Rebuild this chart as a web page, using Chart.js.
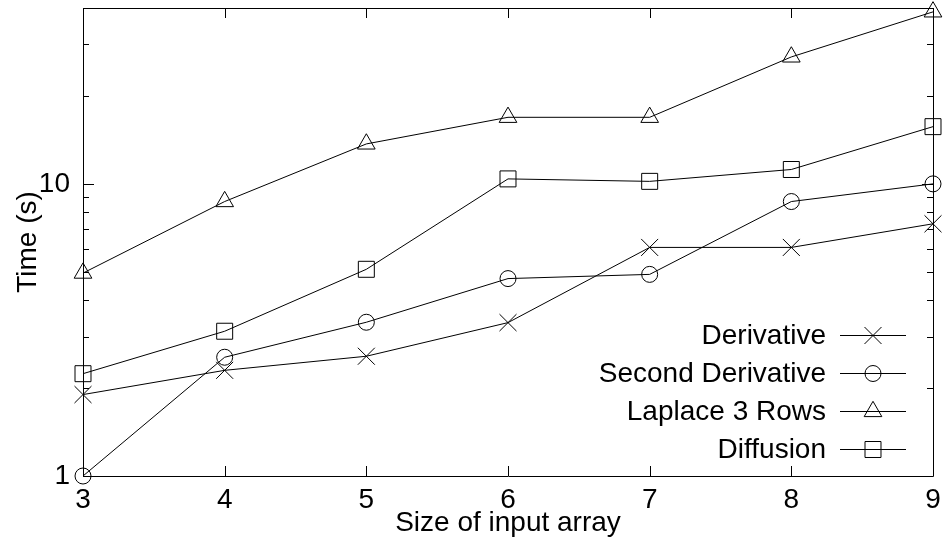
<!DOCTYPE html>
<html><head><meta charset="utf-8">
<script src="https://cdn.jsdelivr.net/npm/chart.js@4/dist/chart.umd.min.js"></script>
<style>html,body{margin:0;padding:0;background:#fff}</style>
</head><body>
<canvas id="c" width="945" height="546"></canvas>
<script>
const sizes = [3, 4, 5, 6, 7, 8, 9];
const derivative = [1.9, 2.3, 2.57, 3.35, 6.06, 6.06, 7.3];
const secondDerivative = [1.0, 2.55, 3.36, 4.74, 4.9, 8.7, 10.0];
const laplace3Rows = [4.95, 8.7, 13.7, 16.9, 16.9, 27.2, 38.8];
const diffusion = [2.24, 3.13, 5.1, 10.4, 10.2, 11.2, 15.7];
const seriesNames = ['Derivative', 'Second Derivative', 'Laplace 3 Rows', 'Diffusion'];
const xTicks = [3, 4, 5, 6, 7, 8, 9];
const yMajorTicks = [1, 10];
const yMinorTicks = [2, 3, 4, 5, 6, 7, 8, 9, 20, 30];
const yMin = 1, yMax = 40;

const FONT = '"Liberation Sans", Arial, Helvetica, sans-serif';
const FSIZE = 28;
const styles = [
  {pointStyle: 'crossRot', radius: 12},
  {pointStyle: 'circle', radius: 8},
  {pointStyle: 'triangle', radius: 10.2},
  {pointStyle: 'rect', radius: 11.3}
];
const seriesValues = [derivative, secondDerivative, laplace3Rows, diffusion];

const datasets = seriesValues.map((vals, i) => ({
  label: seriesNames[i],
  data: sizes.map((x, j) => ({x: x, y: vals[j]})),
  borderColor: '#000',
  borderWidth: 1,
  pointStyle: styles[i].pointStyle,
  pointRadius: styles[i].radius,
  pointHoverRadius: styles[i].radius,
  pointBorderColor: '#000',
  pointBackgroundColor: 'rgba(0,0,0,0)',
  pointBorderWidth: 1,
  tension: 0,
  fill: false,
  clip: false
}));

function crisp(v) { return Math.round(v) + 0.5; }

const framePlugin = {
  id: 'frame',
  beforeDatasetsDraw(chart) {
    const {ctx, chartArea: a, scales: {x, y}} = chart;
    ctx.save();
    ctx.strokeStyle = '#000';
    ctx.lineWidth = 1;
    ctx.beginPath();
    ctx.rect(crisp(a.left), crisp(a.top), Math.round(a.right) - Math.round(a.left), Math.round(a.bottom) - Math.round(a.top));
    ctx.stroke();
    ctx.beginPath();
    xTicks.forEach(v => {
      const px = crisp(x.getPixelForValue(v));
      ctx.moveTo(px, a.bottom); ctx.lineTo(px, a.bottom - 10);
      ctx.moveTo(px, a.top); ctx.lineTo(px, a.top + 10);
    });
    yMajorTicks.forEach(v => {
      const py = crisp(y.getPixelForValue(v));
      ctx.moveTo(a.left, py); ctx.lineTo(a.left + 11, py);
      ctx.moveTo(a.right, py); ctx.lineTo(a.right - 11, py);
    });
    yMinorTicks.forEach(v => {
      const py = crisp(y.getPixelForValue(v));
      ctx.moveTo(a.left, py); ctx.lineTo(a.left + 6, py);
      ctx.moveTo(a.right, py); ctx.lineTo(a.right - 6, py);
    });
    ctx.stroke();
    ctx.restore();
  },
  afterDraw(chart) {
    const {ctx} = chart;
    const rowY = [335, 373, 411, 449];
    const textRight = 826, lineL = 840, lineR = 906, markX = 873;
    ctx.save();
    ctx.font = FSIZE + 'px ' + FONT;
    ctx.textAlign = 'right';
    ctx.textBaseline = 'middle';
    seriesNames.forEach((name, i) => {
      const yy = rowY[i];
      ctx.fillStyle = '#000';
      ctx.fillText(name, textRight, yy + 1);
      ctx.strokeStyle = '#000';
      ctx.lineWidth = 1;
      ctx.beginPath();
      ctx.moveTo(lineL, yy + 0.5); ctx.lineTo(lineR, yy + 0.5);
      ctx.stroke();
      ctx.fillStyle = 'rgba(0,0,0,0)';
      Chart.helpers.drawPoint(ctx, {pointStyle: styles[i].pointStyle, radius: styles[i].radius, rotation: 0, borderWidth: 1}, markX, yy + 0.5);
    });
    ctx.restore();
  }
};

new Chart(document.getElementById('c'), {
  type: 'line',
  data: {datasets},
  plugins: [framePlugin],
  options: {
    responsive: false,
    animation: false,
    devicePixelRatio: 1,
    layout: {autoPadding: false, padding: {top: 8, right: 12, left: 0, bottom: 0}},
    plugins: {legend: {display: false}, tooltip: {enabled: false}},
    scales: {
      x: {
        type: 'linear', min: 3, max: 9,
        afterBuildTicks: s => { s.ticks = xTicks.map(v => ({value: v})); },
        afterFit: s => { s.height = 70; s.paddingLeft = 0; s.paddingRight = 0; },
        grid: {display: false, drawTicks: false},
        border: {display: false},
        ticks: {color: '#000', font: {family: FONT, size: FSIZE}, padding: 7, maxRotation: 0},
        title: {display: true, text: 'Size of input array', color: '#000', font: {family: FONT, size: FSIZE}, padding: {top: 0, bottom: 6}}
      },
      y: {
        type: 'logarithmic', min: yMin, max: yMax,
        afterBuildTicks: s => { s.ticks = yMajorTicks.map(v => ({value: v})); },
        afterFit: s => { s.width = 83; s.paddingTop = 0; s.paddingBottom = 0; },
        grid: {display: false, drawTicks: false},
        border: {display: false},
        ticks: {color: '#000', font: {family: FONT, size: FSIZE}, padding: 13, callback: v => String(v)},
        title: {display: true, text: 'Time (s)', color: '#000', font: {family: FONT, size: FSIZE}, padding: {top: 11, bottom: 0}}
      }
    }
  }
});
</script>
</body></html>
